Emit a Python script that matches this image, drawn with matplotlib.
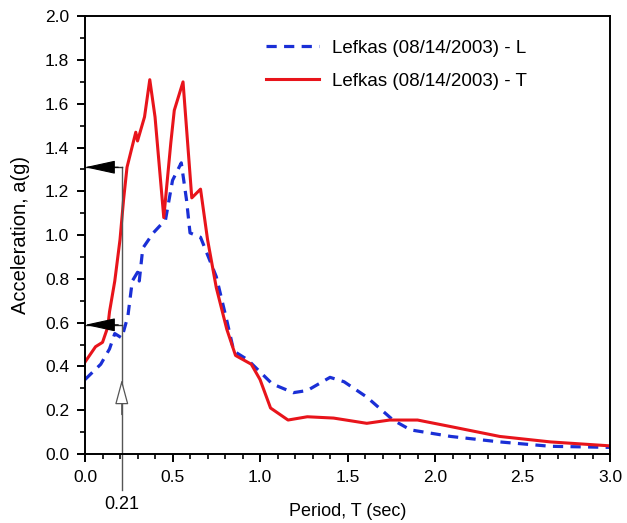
import numpy as np
import matplotlib
matplotlib.use('agg')
import matplotlib.pyplot as plt

plt.rcParams['font.family'] = ['Liberation Sans', 'DejaVu Sans']
plt.rcParams['font.size'] = 12

# Lefkas (08/14/2003) - L
period_L = [0.0, 0.09, 0.14, 0.17, 0.21, 0.245, 0.27, 0.30, 0.31, 0.33, 0.39, 0.46,
            0.50, 0.55, 0.58, 0.60, 0.66, 0.75, 0.81, 0.85, 0.93, 1.07, 1.19, 1.27,
            1.40, 1.48, 1.61, 1.76, 1.86, 2.09, 2.37, 2.66, 3.0]
acc_L = [0.34, 0.41, 0.48, 0.55, 0.53, 0.63, 0.79, 0.83, 0.79, 0.94, 1.01, 1.07,
         1.25, 1.33, 1.16, 1.01, 0.99, 0.81, 0.61, 0.47, 0.43, 0.32, 0.28, 0.29,
         0.35, 0.33, 0.26, 0.155, 0.11, 0.08, 0.055, 0.035, 0.03]

# Lefkas (08/14/2003) - T
period_T = [0.0, 0.06, 0.10, 0.13, 0.14, 0.17, 0.20, 0.22, 0.24, 0.29, 0.30, 0.34,
            0.37, 0.40, 0.45, 0.49, 0.51, 0.56, 0.61, 0.66, 0.70, 0.75, 0.81, 0.86,
            0.95, 1.0, 1.06, 1.16, 1.27, 1.42, 1.61, 1.74, 1.90, 2.09, 2.37, 2.66, 3.0]
acc_T = [0.42, 0.49, 0.51, 0.58, 0.65, 0.79, 0.98, 1.16, 1.31, 1.47, 1.43, 1.54,
         1.71, 1.54, 1.08, 1.42, 1.57, 1.70, 1.17, 1.21, 0.98, 0.76, 0.57, 0.45,
         0.41, 0.34, 0.21, 0.155, 0.17, 0.164, 0.14, 0.155, 0.155, 0.125, 0.08, 0.055, 0.037]

T_mark = 0.21
a_high = 1.31
a_low = 0.59

fig = plt.figure(figsize=(6.27, 5.23), dpi=100)
ax = fig.add_axes([0.1356, 0.132, 0.8374, 0.837])

ax.plot(period_L, acc_L, color='#1a2fd6', linestyle=(0, (3.2, 2.3)), lw=2.3,
        label='Lefkas (08/14/2003) - L')
ax.plot(period_T, acc_T, color='#e8141b', lw=2.2, label='Lefkas (08/14/2003) - T')

# period marker at 0.21 sec
ax.plot([T_mark, T_mark], [-0.165, a_high], color='#555555', lw=1.0, clip_on=False)
ax.plot([0, T_mark], [a_high, a_high], color='#333333', lw=1.0)
ax.plot([0, T_mark], [a_low, a_low], color='#333333', lw=1.0)
for yv in (a_high, a_low):
    ax.annotate('', xy=(0.0, yv), xytext=(0.19, yv),
                arrowprops=dict(arrowstyle='-|>,head_length=1.6,head_width=0.35',
                                color='black', lw=0.8, shrinkA=0, shrinkB=0))
ax.annotate('', xy=(T_mark, 0.34), xytext=(T_mark, 0.18),
            arrowprops=dict(arrowstyle='-|>,head_length=1.3,head_width=0.35',
                            fc='white', ec='#555555', lw=0.9, shrinkA=0, shrinkB=0))
ax.text(T_mark, -0.19, '0.21', ha='center', va='top', fontsize=13)

ax.set_xlim(0, 3.0)
ax.set_ylim(0, 2.0)
ax.set_xticks(np.arange(0, 3.01, 0.5))
ax.set_xticks(np.arange(0, 3.01, 0.1), minor=True)
ax.set_yticks(np.arange(0, 2.01, 0.2))
ax.set_yticks(np.arange(0, 2.01, 0.1), minor=True)
ax.xaxis.set_major_formatter(matplotlib.ticker.FormatStrFormatter('%.1f'))
ax.yaxis.set_major_formatter(matplotlib.ticker.FormatStrFormatter('%.1f'))
ax.tick_params(which='major', direction='out', length=5.5, width=1.4, pad=6,
               labelsize=12.5)
ax.tick_params(which='minor', direction='out', length=3.5, width=1.2)
for s in ax.spines.values():
    s.set_linewidth(1.4)

ax.set_xlabel('Period, T (sec)', fontsize=13)
ax.xaxis.set_label_coords(0.5, -0.113)
ax.set_ylabel('Acceleration, a(g)', fontsize=14.5)
ax.yaxis.set_label_coords(-0.105, 0.5)

ax.legend(loc='upper left', bbox_to_anchor=(0.313, 0.985), frameon=False,
          handlelength=2.8, handletextpad=0.7, labelspacing=0.85, fontsize=13.5)

fig.savefig('out.png', dpi=100)
